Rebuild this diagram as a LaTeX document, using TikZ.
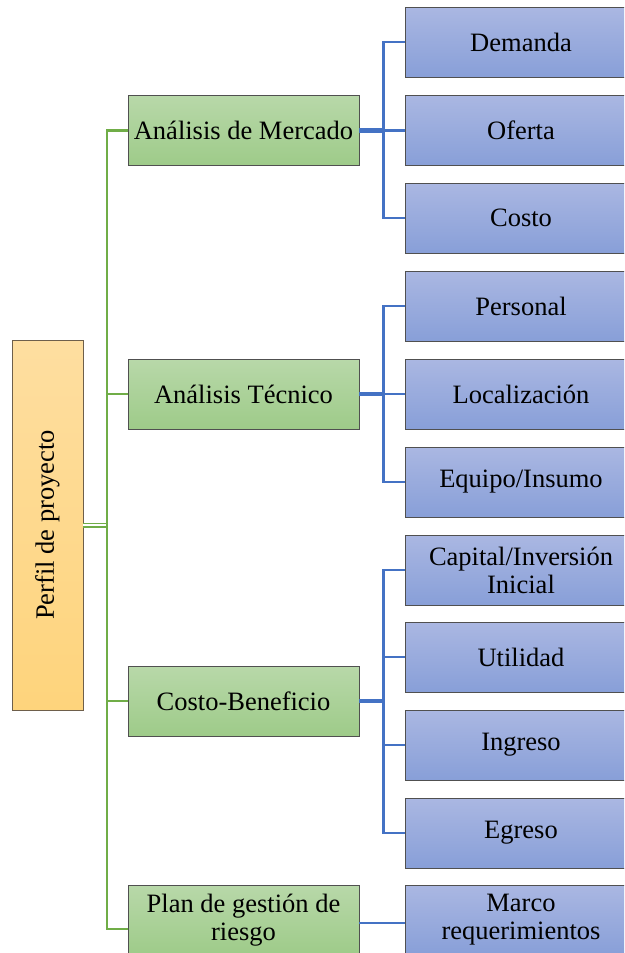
\documentclass[tikz,border=0pt]{standalone}
\usepackage{fontspec}
\setmainfont{Liberation Serif}
\definecolor{gtop}{RGB}{184,216,169}
\definecolor{gbot}{RGB}{158,203,137}
\definecolor{btop}{RGB}{170,183,226}
\definecolor{bbot}{RGB}{136,159,216}
\definecolor{rtop}{RGB}{254,222,160}
\definecolor{rbot}{RGB}{254,212,124}
\definecolor{gcon}{RGB}{112,173,71}
\definecolor{bcon}{RGB}{68,114,196}
\definecolor{edge}{RGB}{80,80,80}
\definecolor{redge}{RGB}{110,95,75}
\tikzset{
  basebox/.style={draw=edge, line width=0.9pt, minimum width=231pt, minimum height=70pt,
    inner sep=2pt, align=center, font=\fontsize{26.5}{28}\selectfont, text=black},
  gbox/.style={basebox, top color=gtop, bottom color=gbot},
  bbox/.style={basebox, top color=btop, bottom color=bbot, minimum width=232pt},
  rbox/.style={draw=redge, line width=0.9pt, minimum width=71pt, minimum height=370pt,
    inner sep=0pt, top color=rtop, bottom color=rbot, font=\fontsize{26.5}{28}\selectfont},
  gline/.style={draw=gcon, line width=2.3pt},
  bline/.style={draw=bcon, line width=2.3pt},
  bthick/.style={draw=bcon, line width=4.5pt}
}
\begin{document}
\begin{tikzpicture}[x=1pt,y=-1pt]
\useasboundingbox (0,0) rectangle (624,953);
\clip (0,0) rectangle (624,953);
\node[rbox] (root) at (47.5,525) {\rotatebox{90}{Perfil de proyecto}};
\node[gbox] (g1) at (243.5,130.5) {Análisis de Mercado};
\node[gbox] (g2) at (243.5,394) {Análisis Técnico};
\node[gbox] (g3) at (243.5,701) {Costo-Beneficio};
\node[gbox] (g4) at (243.5,920) {Plan de gestión de\\riesgo};
\node[bbox] (b1) at (521,42) {Demanda};
\node[bbox] (b2) at (521,130.5) {Oferta};
\node[bbox] (b3) at (521,218) {Costo};
\node[bbox] (b4) at (521,306) {Personal};
\node[bbox] (b5) at (521,394) {Localización};
\node[bbox] (b6) at (521,482) {Equipo/Insumo};
\node[bbox] (b7) at (521,570) {Capital/Inversión\\Inicial};
\node[bbox] (b8) at (521,657) {Utilidad};
\node[bbox] (b9) at (521,745) {Ingreso};
\node[bbox] (b10) at (521,833) {Egreso};
\node[bbox] (b11) at (521,920) {Marco\\requerimientos};
% green connectors
\coordinate (gbus) at (107,525);
\draw[draw=gcon, double=white, double distance=1.4pt, line width=1.8pt] (root.east) -- (gbus);
\draw[gline] (gbus) |- (g1.west);
\draw[gline] (gbus) |- (g2.west);
\draw[gline] (gbus) |- (g3.west);
\draw[gline] (gbus) |- ([yshift=-9pt]g4.west);
% blue connectors
\path (g1.east) ++(24,0) coordinate (c1);
\path (g2.east) ++(24,0) coordinate (c2);
\path (g3.east) ++(24,0) coordinate (c3);
\draw[bthick] (g1.east) -- (c1);
\draw[bthick] (g2.east) -- (c2);
\draw[bthick] (g3.east) -- (c3);
\draw[bline] (c1) |- (b1.west);
\draw[bline] (c1) -- (b2.west);
\draw[bline] (c1) |- (b3.west);
\draw[bline] (c2) |- (b4.west);
\draw[bline] (c2) -- (b5.west);
\draw[bline] (c2) |- (b6.west);
\draw[bline] (c3) |- (b7.west);
\draw[bline] (c3) |- (b8.west);
\draw[bline] (c3) |- (b9.west);
\draw[bline] (c3) |- (b10.west);
\draw[bline] ([yshift=-3pt]g4.east) -- ([yshift=-3pt]b11.west);
\end{tikzpicture}
\end{document}
